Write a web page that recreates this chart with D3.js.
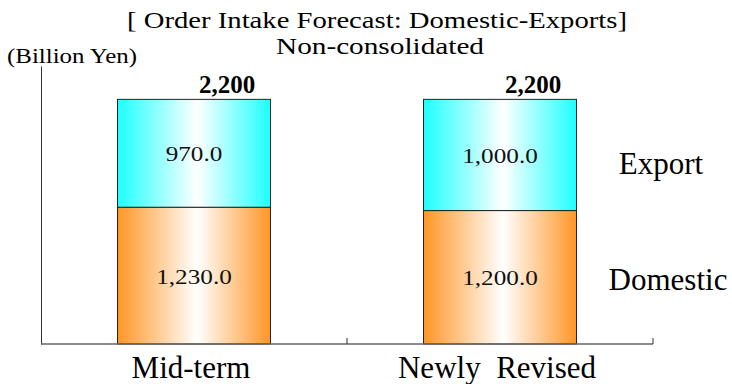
<!DOCTYPE html>
<html>
<head>
<meta charset="utf-8">
<script src="https://cdn.jsdelivr.net/npm/d3@7"></script>
<style>
  html, body { margin: 0; padding: 0; background: #fff; }
  svg { display: block; }
</style>
</head>
<body>
<svg id="chart" width="732" height="384" font-family="Liberation Serif, Times New Roman, serif"></svg>
<script>
// Order intake forecast, non-consolidated (billion yen)
const categories = ["Mid-term", "Newly  Revised"];
const domestic = [1230.0, 1200.0];
const exportVals = [970.0, 1000.0];
const seriesNames = ["Domestic", "Export"];
const totals = [2200, 2200];
const titleLines = ["[ Order Intake Forecast: Domestic-Exports]", "Non-consolidated"];

const svg = d3.select("#chart");
const margin = { left: 41, right: 79, top: 66, bottom: 40 };
const W = 732, H = 384;
const plotW = W - margin.left - margin.right;
const baseY = H - margin.bottom;

const x = d3.scaleBand().domain(categories).range([margin.left, W - margin.right]).paddingInner(0.5).paddingOuter(0.25);
const y = d3.scaleLinear().domain([0, 2500]).range([baseY, margin.top]);

// gradients: saturated at the edges, white in the middle
const defs = svg.append("defs");
function grad(id, col) {
  const g = defs.append("linearGradient").attr("id", id).attr("x1", "0%").attr("x2", "100%").attr("y1", "0%").attr("y2", "0%");
  g.append("stop").attr("offset", "0%").attr("stop-color", col);
  g.append("stop").attr("offset", "52%").attr("stop-color", "#ffffff");
  g.append("stop").attr("offset", "100%").attr("stop-color", col);
}
grad("gDom", "#ff9626");
grad("gExp", "#1effff");

const stackData = categories.map((c, i) => ({ cat: c, Domestic: domestic[i], Export: exportVals[i] }));
const stacked = d3.stack().keys(seriesNames)(stackData);
const fills = { Domestic: "url(#gDom)", Export: "url(#gExp)" };

// widen a text horizontally about its anchor
function stretch(sel, k) {
  sel.each(function () {
    const len = this.getComputedTextLength();
    d3.select(this).attr("textLength", len * k).attr("lengthAdjust", "spacingAndGlyphs");
  });
}

stacked.forEach(layer => {
  svg.append("g").selectAll("rect").data(layer).join("rect")
    .attr("x", d => x(d.data.cat))
    .attr("width", x.bandwidth())
    .attr("y", d => y(d[1]))
    .attr("height", d => y(d[0]) - y(d[1]))
    .attr("fill", fills[layer.key])
    .attr("stroke", "#222")
    .attr("stroke-width", 1);

  svg.append("g").selectAll("text").data(layer).join("text")
    .attr("x", d => x(d.data.cat) + x.bandwidth() / 2)
    .attr("y", d => (y(d[0]) + y(d[1])) / 2)
    .attr("dy", "0.38em")
    .attr("text-anchor", "middle")
    .attr("font-size", 21)
    .attr("fill", "#111")
    .text(d => d3.format(",.1f")(d[1] - d[0]))
    .call(stretch, 1.2);
});

// totals above each stack
svg.append("g").selectAll("text").data(categories).join("text")
  .attr("x", c => x(c) + x.bandwidth() / 2 + 33)
  .attr("y", (c, i) => y(totals[i]) - 6)
  .attr("text-anchor", "middle")
  .attr("font-size", 25)
  .attr("font-weight", "bold")
  .text((c, i) => d3.format(",")(totals[i]));

// axes
const yAxis = d3.axisLeft(y).tickValues([]).tickSizeOuter(0);
svg.append("g").attr("transform", `translate(${margin.left},0)`).call(yAxis)
  .select(".domain").attr("stroke", "#333");

const xAxisG = svg.append("g").attr("transform", `translate(0,${baseY})`);
xAxisG.append("line").attr("x1", margin.left).attr("x2", W - margin.right)
  .attr("stroke", "#666").attr("stroke-width", 1.5);
const bounds = [margin.left + plotW / 2, W - margin.right];
xAxisG.selectAll("line.tk").data(bounds).join("line").attr("class", "tk")
  .attr("x1", d => d).attr("x2", d => d).attr("y1", 0).attr("y2", -6).attr("stroke", "#333");

xAxisG.selectAll("text").data(categories).join("text")
  .attr("x", c => x(c) + x.bandwidth() / 2 - 3)
  .attr("y", 34)
  .attr("text-anchor", "middle")
  .attr("font-size", 31)
  .attr("xml:space", "preserve")
  .style("white-space", "pre")
  .text(c => c);

// series labels on the right
const li = categories.length - 1;
svg.append("text").attr("x", 668).attr("y", (y(domestic[li]) + y(0)) / 2 + 13)
  .attr("text-anchor", "middle").attr("font-size", 31).text(seriesNames[0]);
svg.append("text").attr("x", 661).attr("y", (y(domestic[li]) + y(totals[li])) / 2 + 19)
  .attr("text-anchor", "middle").attr("font-size", 31).text(seriesNames[1]);

// two-line title
svg.append("text").attr("x", 377).attr("y", 28).attr("text-anchor", "middle").attr("font-size", 23.5)
  .attr("textLength", 500).attr("lengthAdjust", "spacingAndGlyphs").text(titleLines[0]);
svg.append("text").attr("x", 380).attr("y", 54).attr("text-anchor", "middle").attr("font-size", 23.5)
  .attr("textLength", 208).attr("lengthAdjust", "spacingAndGlyphs").text(titleLines[1]);

svg.append("text").attr("x", 7).attr("y", 63).attr("font-size", 22)
  .attr("textLength", 130).attr("lengthAdjust", "spacingAndGlyphs")
  .text("(Billion Yen)");
</script>
</body>
</html>
